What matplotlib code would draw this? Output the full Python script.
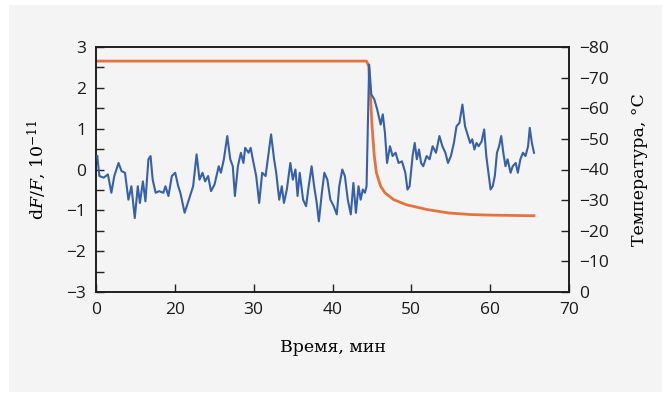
import numpy as np
import matplotlib
matplotlib.use("Agg")
import matplotlib.pyplot as plt
from matplotlib.patches import Rectangle
from matplotlib.ticker import MultipleLocator

plt.rcParams["mathtext.fontset"] = "dejavuserif"

# time axis positions (plot units) and tick labels as printed on the chart
x_ticks = [10, 20, 30, 40, 50, 60, 70]
x_ticklabels = ["0", "20", "30", "40", "50", "60", "70"]

# signal dF/F, 1e-11
sig_t = [10.16, 10.43, 10.97, 11.51, 11.95, 12.32, 12.86, 13.24, 13.68, 14.11,
         14.49, 14.92, 15.30, 15.57, 15.95, 16.27, 16.65, 16.92, 17.19, 17.57,
         18.00, 18.54, 18.81, 19.19, 19.62, 20.05, 20.43, 20.70, 21.24, 21.78,
         22.32, 22.76, 23.13, 23.51, 23.84, 24.22, 24.59, 25.03, 25.57, 25.84,
         26.22, 26.65, 27.03, 27.35, 27.62, 28.00, 28.38, 28.70, 28.92, 29.35,
         29.62, 29.89, 30.32, 30.70, 31.08, 31.51, 31.84, 32.21, 32.59, 32.86,
         33.24, 33.57, 33.84, 34.21, 34.65, 34.97, 35.30, 35.57, 35.84, 36.27,
         36.65, 36.92, 37.35, 37.67, 38.00, 38.27, 38.65, 38.97, 39.35, 39.73,
         40.16, 40.54, 40.86, 41.24, 41.57, 41.94, 42.32, 42.65, 42.97, 43.30,
         43.57, 43.84, 44.11, 44.32, 44.65, 44.92, 45.30, 45.67, 46.11, 46.38,
         46.65, 46.92, 47.29, 47.62, 48.00, 48.38, 48.81, 49.24, 49.51, 49.78,
         50.16, 50.43, 50.70, 50.97, 51.24, 51.51, 51.94, 52.32, 52.70, 53.13,
         53.56, 53.94, 54.32, 54.65, 55.02, 55.40, 55.73, 56.10, 56.48, 56.81,
         57.19, 57.46, 57.73, 58.00, 58.27, 58.54, 58.92, 59.24, 59.51, 59.78,
         60.05, 60.32, 60.59, 60.86, 61.13, 61.40, 61.67, 61.94, 62.21, 62.59,
         62.86, 63.24, 63.51, 63.83, 64.16, 64.48, 64.81, 65.02, 65.29, 65.56]
sig_v = [0.33, -0.16, -0.20, -0.12, -0.57, -0.16, 0.16, -0.04, -0.08, -0.74,
         -0.41, -1.19, -0.41, -0.82, -0.29, -0.78, 0.25, 0.33, -0.25, -0.57,
         -0.53, -0.57, -0.41, -0.65, -0.16, -0.08, -0.41, -0.57, -1.06, -0.74,
         -0.41, 0.37, -0.25, -0.08, -0.29, -0.16, -0.53, -0.37, 0.08, -0.08,
         0.25, 0.82, 0.25, 0.08, -0.65, 0.08, 0.41, 0.16, 0.53, 0.41,
         0.53, 0.25, -0.16, -0.82, -0.08, -0.16, 0.33, 0.86, 0.25, -0.08,
         -0.74, -0.41, -0.82, -0.49, 0.16, -0.25, 0.00, -0.65, -0.08, -0.74,
         -0.90, -0.49, 0.08, -0.41, -0.82, -1.27, -0.57, -0.08, -0.25, -0.74,
         -0.90, -1.10, -0.41, 0.00, -0.16, -0.74, -1.10, -0.33, -1.06, -0.41,
         -0.74, -0.49, -0.57, -0.41, 2.57, 1.84, 1.72, 1.47, 1.10, 1.35,
         0.90, 0.16, 0.57, 0.33, 0.41, 0.16, 0.20, -0.08, -0.49, -0.41,
         0.33, 0.65, 0.25, 0.49, 0.16, 0.08, 0.33, 0.25, 0.57, 0.41,
         0.82, 0.57, 0.41, 0.16, 0.33, 0.65, 1.06, 1.14, 1.59, 1.06,
         0.82, 0.65, 0.74, 0.49, 0.65, 0.57, 0.69, 0.98, 0.33, -0.08,
         -0.49, -0.41, -0.16, 0.41, 0.57, 0.82, 0.41, 0.08, 0.25, -0.08,
         0.08, 0.16, -0.08, 0.25, 0.41, 0.33, 0.57, 1.02, 0.65, 0.41]

# temperature, deg C
temp_t = [10.0, 44.32, 44.59, 44.75, 45.02, 45.30, 45.57, 46.11, 46.65, 47.73,
          49.35, 52.05, 54.75, 57.46, 60.16, 65.56]
temp_v = [-75.4, -75.4, -73.7, -67.2, -54.0, -44.4, -38.9, -34.5, -32.4, -30.2,
          -28.5, -26.9, -25.8, -25.3, -25.1, -24.9]

bg = "#f4f4f4"
tick_font = "Open Sans"
label_font = "DejaVu Serif"

fig = plt.figure(figsize=(6.7, 3.93), dpi=100)
fig.patches.append(Rectangle((9 / 670, 1 / 393), 653 / 670, 387 / 393,
                             transform=fig.transFigure, facecolor=bg,
                             edgecolor="none", zorder=-10))
ax = fig.add_axes([96 / 670, 1 - 292 / 393, 473 / 670, 245 / 393])
ax2 = ax.twinx()

ax2.plot(temp_t, temp_v, color="#e5733d", lw=2.0, solid_joinstyle="round")
ax.plot(sig_t, sig_v, color="#3760ab", lw=1.5, zorder=3)
ax.set_zorder(2)
ax2.set_zorder(1)
ax.patch.set_visible(False)
ax2.patch.set_facecolor(bg)

ax.set_xlim(10, 70)
ax.set_ylim(-3, 3)
ax2.set_ylim(0, -80)

ax.set_xticks(x_ticks)
ax.set_xticklabels(x_ticklabels)
ax.yaxis.set_minor_locator(MultipleLocator(0.5))
ax.set_yticks([3, 2, 1, 0, -1, -2, -3])
ax.set_yticklabels(["3", "2", "1", "0", "\u22121", "\u22122", "\u22123"])
r_ticks = [-80, -70, -60, -50, -40, -30, -20, -10, 0]
ax2.set_yticks(r_ticks)
ax2.set_yticklabels([str(v).replace("-", "\u2212") for v in r_ticks])

ax.tick_params(axis="both", which="both", direction="in", length=6, width=1,
               pad=7, labelsize=12.5, color="#222222")
ax2.tick_params(axis="y", which="both", direction="in", length=6, width=1,
                pad=7, labelsize=12.5, color="#222222")
for lab in ax.get_xticklabels() + ax.get_yticklabels() + ax2.get_yticklabels():
    lab.set_fontfamily(tick_font)
    lab.set_color("#1a1a1a")

for a in (ax, ax2):
    for s in a.spines.values():
        s.set_linewidth(1.1)
        s.set_color("#1a1a1a")

ax.set_xlabel("Время, мин", fontfamily=label_font, fontsize=12.5, labelpad=15)
ax.set_ylabel(r"d$F$/$F$, 10$^{-11}$", fontfamily=label_font, fontsize=12.5,
              labelpad=13)
ax2.set_ylabel("Температура, °C", fontfamily=label_font, fontsize=12.5,
               labelpad=16)

fig.savefig("out.png", dpi=100, facecolor="white")
